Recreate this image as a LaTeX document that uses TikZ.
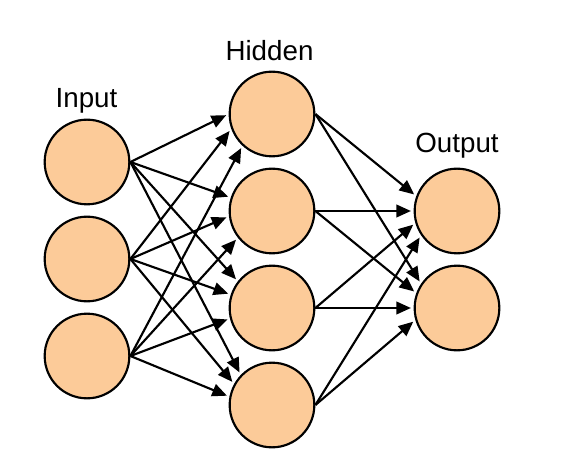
\documentclass[tikz,border=0pt]{standalone}
\usepackage{fontspec}
\setmainfont{Liberation Sans}
\usetikzlibrary{arrows.meta}
\definecolor{peach}{RGB}{252,203,153}

\begin{document}
\begin{tikzpicture}[x=0.75pt,y=-0.75pt,
  neuron/.style={circle,draw=black,line width=1.6pt,fill=peach,minimum size=63.5pt,inner sep=0pt},
  layername/.style={anchor=base,font=\fontsize{20.8}{24}\selectfont},
  link/.style={line width=1.6pt,-{Triangle[length=11pt,width=9.5pt]},shorten >=2pt}]
\useasboundingbox (0,0) rectangle (577,459);

\node[neuron] (i1) at (87,162) {};
\node[neuron] (i2) at (87,259) {};
\node[neuron] (i3) at (87,356) {};

\node[neuron] (h1) at (272,114) {};
\node[neuron] (h2) at (272,211) {};
\node[neuron] (h3) at (272,308) {};
\node[neuron] (h4) at (272,405) {};

\node[neuron] (o1) at (457,211) {};
\node[neuron] (o2) at (457,308) {};

\node[layername] (inlabel) at (86.5,108) {Input};
\node[layername] (hidlabel) at (269.5,61) {Hidden};
\node[layername] (outlabel) at (457,153) {Output};

% input -> hidden
\draw[link] (i1.east) -- (h1.180);
\draw[link] (i1.east) -- (h2.162);
\draw[link] (i1.east) -- (h3.142);
\draw[link] (i1.east) -- (h4.136);
\draw[link] (i2.east) -- (h1.200);
\draw[link] (i2.east) -- (h2.187);
\draw[link] (i2.east) -- (h3.162);
\draw[link] (i2.east) -- (h4.151);
\draw[link] (i3.east) -- (h1.227);
\draw[link] (i3.east) -- (h2.218);
\draw[link] (i3.east) -- (h3.194);
\draw[link] (i3.east) -- (h4.169);

% hidden -> output
\draw[link] (h1.east) -- (o1.160);
\draw[link] (h1.east) -- (o2.146);
\draw[link] (h2.east) -- (o1.180);
\draw[link] (h2.east) -- (o2.160);
\draw[link] (h3.east) -- (o1.196);
\draw[link] (h3.east) -- (o2.180);
\draw[link] (h4.east) -- (o1.214);
\draw[link] (h4.east) -- (o2.196);

\end{tikzpicture}
\end{document}
